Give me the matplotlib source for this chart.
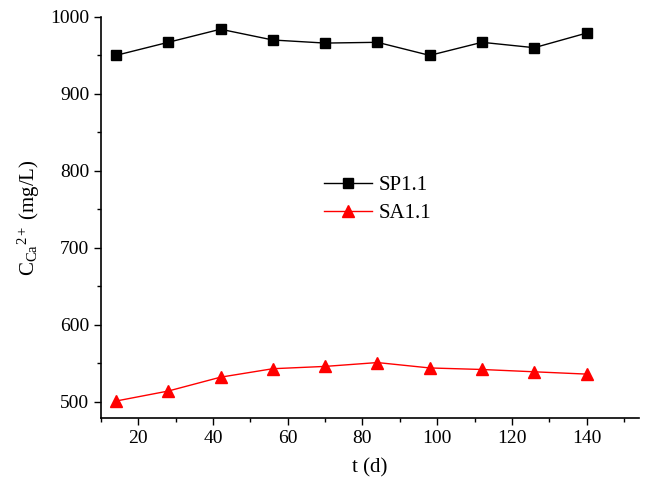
import matplotlib
matplotlib.use('Agg')
import matplotlib.pyplot as plt
from matplotlib.ticker import MultipleLocator

plt.rcParams['font.family'] = ['Liberation Serif', 'DejaVu Serif']
plt.rcParams['mathtext.fontset'] = 'custom'
plt.rcParams['mathtext.rm'] = 'Liberation Serif'
plt.rcParams['mathtext.it'] = 'Liberation Serif:italic'

# data
days = [14, 28, 42, 56, 70, 84, 98, 112, 126, 140]
sp11 = [950, 967, 984, 970, 966, 967, 950, 967, 960, 979]
sa11 = [501, 514, 532, 543, 546, 551, 544, 542, 539, 536]

fig = plt.figure(figsize=(6.46, 4.83), dpi=100)
ax = fig.add_axes([0.1563, 0.1346, 0.8327, 0.8304])

ax.plot(days, sp11, color='black', lw=1, marker='s', ms=7.5, label='SP1.1')
ax.plot(days, sa11, color='red', lw=1, marker='^', ms=9, label='SA1.1')

ax.set_xlim(10, 154)
ax.set_ylim(479, 1000)
ax.xaxis.set_major_locator(MultipleLocator(20))
ax.xaxis.set_minor_locator(MultipleLocator(10))
ax.yaxis.set_major_locator(MultipleLocator(100))
ax.yaxis.set_minor_locator(MultipleLocator(50))
ax.tick_params(which='both', direction='out', labelsize=14, width=1)
ax.tick_params(which='major', length=5)
ax.tick_params(which='minor', length=3)
for s in ['top', 'right']:
    ax.spines[s].set_visible(False)
for s in ['left', 'bottom']:
    ax.spines[s].set_linewidth(1.2)

ax.set_xlabel('t (d)', fontsize=15, labelpad=8)
ax.set_ylabel(r'$\mathregular{C_{Ca}{}^{2+}}$ (mg/L)', fontsize=15, labelpad=6)

ax.legend(loc='center left', bbox_to_anchor=(0.38, 0.545), frameon=False,
          fontsize=15, handlelength=2.3, handletextpad=0.3, labelspacing=0.4)

plt.savefig('out.png', dpi=100, facecolor='white')
plt.close()
